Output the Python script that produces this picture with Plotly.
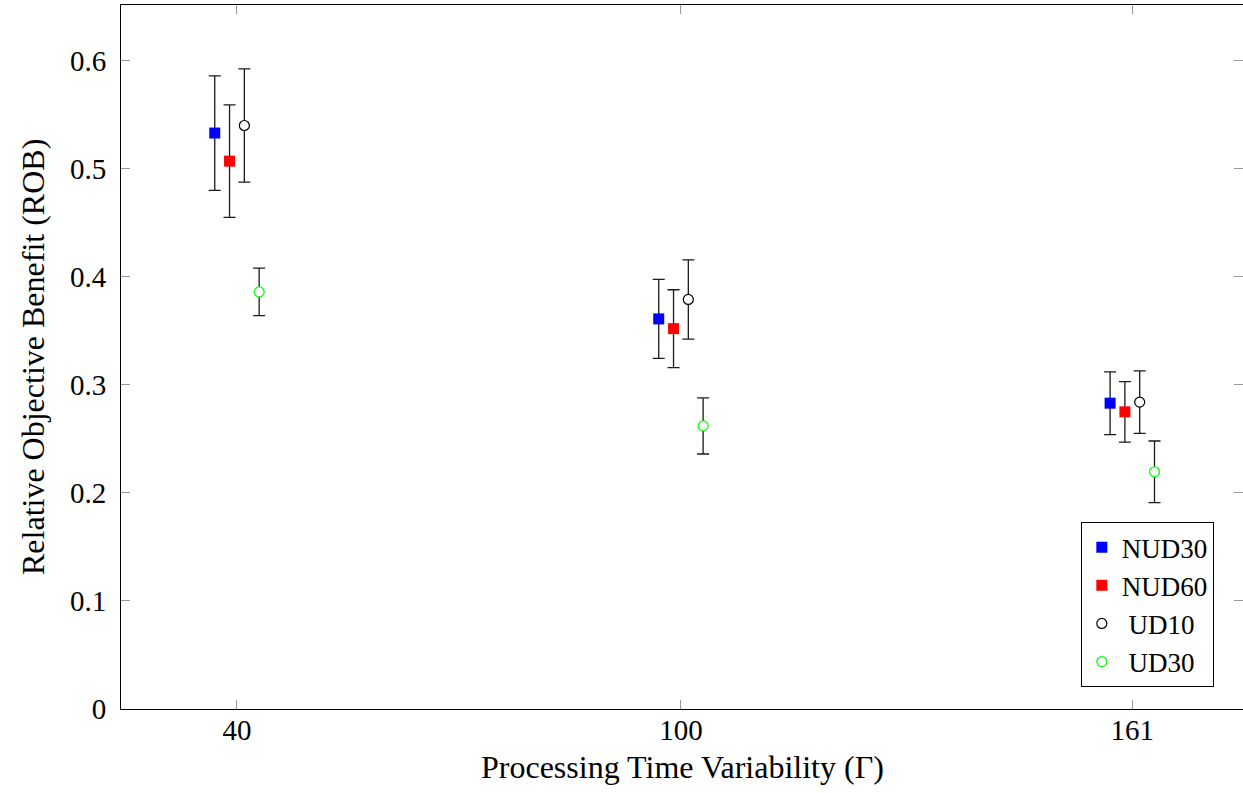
import plotly.graph_objects as go

# Processing time variability levels (Gamma)
gamma = [40, 100, 161]
tick_text = ["40", "100", "161"]

# relative objective benefit, mean and half-width of error bar
nud30 = [0.533, 0.361, 0.283]
nud30_err = [0.053, 0.0365, 0.029]
nud60 = [0.507, 0.352, 0.275]
nud60_err = [0.052, 0.036, 0.028]
ud10 = [0.540, 0.379, 0.284]
ud10_err = [0.0524, 0.0367, 0.029]
ud30 = [0.386, 0.262, 0.2195]
ud30_err = [0.022, 0.026, 0.0285]

FONT = "Liberation Serif"

series = [
    ("NUD30", nud30, nud30_err, -3, "square", "#0000ff", "#0000ff"),
    ("NUD60", nud60, nud60_err, -1, "square", "#ff0000", "#ff0000"),
    (" UD10", ud10, ud10_err, 1, "circle", "white", "black"),
    (" UD30", ud30, ud30_err, 3, "circle", "white", "#00ff00"),
]

fig = go.Figure()
for name, vals, errs, shift, sym, fill, edge in series:
    fig.add_trace(go.Scatter(
        x=[g + shift for g in gamma], y=vals, name=name, mode="markers",
        marker=dict(symbol=sym, size=11 if sym == "square" else 10, color=fill,
                    line=dict(color=edge, width=1.2 if sym == "circle" else 0)),
        error_y=dict(type="data", array=errs, visible=True, color="#1a1a1a",
                     thickness=1.3, width=6),
    ))

fig.update_layout(
    width=1243, height=793,
    margin=dict(l=121, r=0, t=5, b=84),
    paper_bgcolor="white", plot_bgcolor="white",
    font=dict(family=FONT, size=29, color="black"),
    showlegend=True,
    legend=dict(x=0.974, y=0.031, xanchor="right", yanchor="bottom",
                bgcolor="white", bordercolor="black", borderwidth=1,
                font=dict(family=FONT, size=27), itemwidth=30,
                tracegroupgap=0),
)
fig.update_xaxes(
    range=[24.33, 175.96], tickvals=gamma, ticktext=tick_text,
    showline=True, linecolor="black", linewidth=1, mirror="ticks",
    ticks="inside", ticklen=9, tickcolor="#999999", tickwidth=1,
    showgrid=False, zeroline=False, ticklabelstandoff=-5, automargin=False,
)
fig.update_yaxes(
    range=[0, 0.6515], tickvals=[0, 0.1, 0.2, 0.3, 0.4, 0.5, 0.6],
    showline=True, linecolor="black", linewidth=1, mirror="ticks",
    ticks="inside", ticklen=9, tickcolor="#999999", tickwidth=1,
    showgrid=False, zeroline=False, ticklabelstandoff=8, automargin=False,
)

# axis titles as annotations so they can sit where the reference has them
fig.add_annotation(text="Processing Time Variability (Γ)", xref="paper", yref="paper",
                   x=0.5, y=0, xanchor="center", yanchor="middle", yshift=-58,
                   showarrow=False, font=dict(family=FONT, size=32))
fig.add_annotation(text="Relative Objective Benefit (ROB)", xref="paper", yref="paper",
                   x=0, y=0.5, xanchor="center", yanchor="middle", xshift=-88,
                   textangle=-90, showarrow=False, font=dict(family=FONT, size=32))

fig.write_html("out.html", config={"displayModeBar": False},
               post_script="document.body.style.margin='0';")
